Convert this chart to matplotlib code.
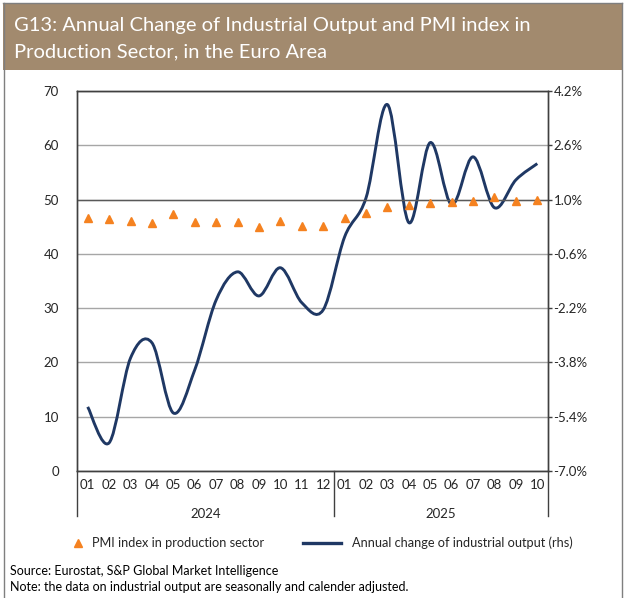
import matplotlib
matplotlib.use("Agg")
import matplotlib.pyplot as plt
from matplotlib.path import Path
from matplotlib.patches import PathPatch, Rectangle
from matplotlib.lines import Line2D
import numpy as np

plt.rcParams['font.family'] = ['Lato', 'DejaVu Sans']

months = ["01", "02", "03", "04", "05", "06", "07", "08", "09", "10", "11", "12",
          "01", "02", "03", "04", "05", "06", "07", "08", "09", "10"]
years = ["2024", "2025"]
pmi = [46.6, 46.5, 46.1, 45.7, 47.3, 45.8, 45.8, 45.8, 45.0, 46.0, 45.2, 45.1,
       46.6, 47.6, 48.6, 49.0, 49.4, 49.6, 49.8, 50.5, 49.8, 50.0]
output_chg = [-5.11, -6.17, -3.67, -3.22, -5.29, -4.02, -1.96, -1.13, -1.84, -1.01, -2.04, -2.25,
              -0.10, 1.05, 3.80, 0.32, 2.68, 0.85, 2.26, 0.76, 1.58, 2.06]
left_ticks = [0, 10, 20, 30, 40, 50, 60, 70]
right_ticks = [-7.0, -5.4, -3.8, -2.2, -0.6, 1.0, 2.6, 4.2]

NAVY = "#1F3864"
ORANGE = "#F58220"
BAND = "#A28A6E"
TXT = "#262626"

W, H = 624, 598
fig = plt.figure(figsize=(W / 100, H / 100), dpi=100)

# title band and border
fig.patches.append(Rectangle((3 / W, 1 - 70 / H), 619 / W, 67 / H, transform=fig.transFigure,
                             facecolor=BAND, edgecolor="none"))
for xb in (3.5, 621.5):
    fig.lines.append(Line2D([xb / W, xb / W], [0, 1 - 3 / H], transform=fig.transFigure,
                            color="#7F7F7F", lw=1))
fig.lines.append(Line2D([3 / W, 622 / W], [1 - 3 / H, 1 - 3 / H], transform=fig.transFigure,
                        color="#7F7F7F", lw=1))
fig.text(14 / W, 1 - 25 / H, "G13: Annual Change of Industrial Output and PMI index in",
         color="white", fontsize=14.5, va="center", ha="left")
fig.text(14 / W, 1 - 52 / H, "Production Sector, in the Euro Area",
         color="white", fontsize=14.5, va="center", ha="left")

ax = fig.add_axes([77 / W, 1 - 471 / H, 471 / W, 380 / H])
ax2 = ax.twinx()
x = np.arange(len(months))

# smooth line (Bezier through data points, like spreadsheet smoothed lines)
yv = np.array(output_chg, dtype=float)
verts = [(x[0], yv[0])]
codes = [Path.MOVETO]
n = len(x)
for i in range(n - 1):
    p0 = np.array([x[max(i - 1, 0)], yv[max(i - 1, 0)]])
    p1 = np.array([x[i], yv[i]])
    p2 = np.array([x[i + 1], yv[i + 1]])
    p3 = np.array([x[min(i + 2, n - 1)], yv[min(i + 2, n - 1)]])
    c1 = p1 + (p2 - p0) / 6.0
    c2 = p2 - (p3 - p1) / 6.0
    verts += [tuple(c1), tuple(c2), tuple(p2)]
    codes += [Path.CURVE4] * 3
ax2.add_patch(PathPatch(Path(verts, codes), facecolor="none", edgecolor=NAVY, lw=2.1,
                        capstyle="butt", joinstyle="round", zorder=3))
ax2.set_ylim(-7.0, 4.2)
ax2.set_yticks(right_ticks)
ax2.set_yticklabels([f"{v:.1f}%" for v in right_ticks])
ax2.grid(axis="y", color="#A6A6A6", lw=1)
ax2.tick_params(axis="y", length=3, width=1, pad=1, labelsize=9.5, labelcolor=TXT, color="#404040")

ax.set_zorder(ax2.get_zorder() + 1)
ax.patch.set_visible(False)
ax.plot(x, pmi, linestyle="none", marker="^", color=ORANGE, markersize=5.5, zorder=4)
ax.set_ylim(0, 70)
ax.set_yticks(left_ticks)
ax.tick_params(axis="y", length=0, pad=13, labelsize=9.5, labelcolor=TXT)
ax.set_xlim(-0.5, len(months) - 0.5)
ax.set_xticks(x)
ax.set_xticklabels(months)
ax.tick_params(axis="x", length=0, pad=6, labelsize=9.5, labelcolor=TXT)
ax.axhline(50, color="#595959", lw=1, zorder=1)

for a in (ax, ax2):
    for s in a.spines.values():
        s.set_color("#404040")
        s.set_linewidth(1)

# category separators and year labels
for b in (-0.5, 11.5, len(months) - 0.5):
    ax.plot([b, b], [0, -0.118], transform=ax.get_xaxis_transform(), color="#404040",
            lw=1, clip_on=False)
ax.text(5.5, -0.113, years[0], transform=ax.get_xaxis_transform(), ha="center", va="center",
        fontsize=9.5, color=TXT)
ax.text(16.5, -0.113, years[1], transform=ax.get_xaxis_transform(), ha="center", va="center",
        fontsize=9.5, color=TXT)

leg1 = fig.legend([Line2D([], [], linestyle="none", marker="^", color=ORANGE, markersize=5.5)],
                  ["PMI index in production sector"],
                  loc="center left", bbox_to_anchor=(72 / W, 1 - 543 / H), frameon=False,
                  fontsize=9.2, handlelength=1.0, handletextpad=0.6, borderpad=0,
                  borderaxespad=0, labelcolor=TXT)
leg2 = fig.legend([Line2D([], [], color=NAVY, lw=2.4)],
                  ["Annual change of industrial output (rhs)"],
                  loc="center left", bbox_to_anchor=(303 / W, 1 - 543 / H), frameon=False,
                  fontsize=9.2, handlelength=3.0, handletextpad=0.8, borderpad=0,
                  borderaxespad=0, labelcolor=TXT)

fig.text(10 / W, 1 - 571 / H, "Source: Eurostat, S&P Global Market Intelligence",
         fontsize=9, color="black", va="center")
fig.text(10 / W, 1 - 587 / H, "Note: the data on industrial output are seasonally and calender adjusted.",
         fontsize=9, color="black", va="center")

fig.savefig("out.png", dpi=100)
